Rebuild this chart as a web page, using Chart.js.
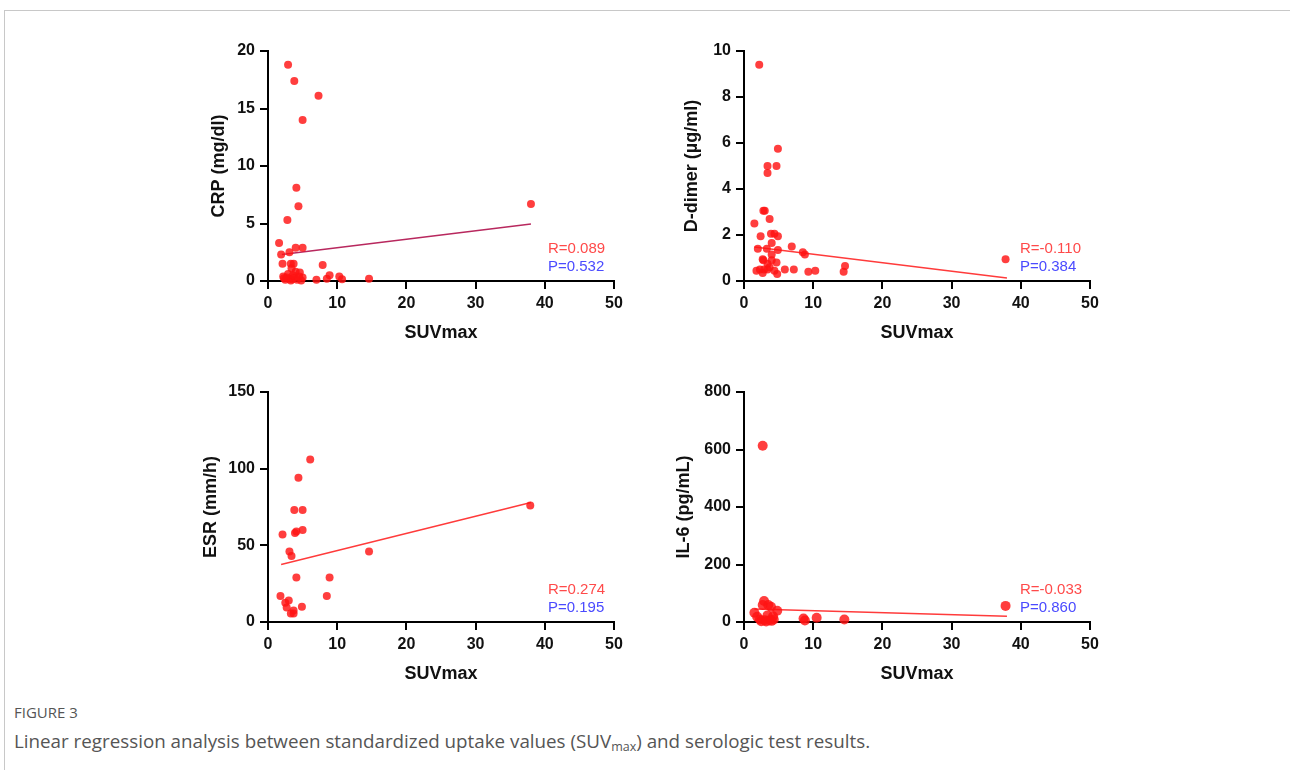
<!DOCTYPE html>
<html>
<head>
<meta charset="utf-8">
<script src="https://cdn.jsdelivr.net/npm/chart.js@4.4.0/dist/chart.umd.min.js"></script>
<style>
  body { margin: 0; background: #fff; width: 1290px; height: 770px; overflow: hidden; position: relative; }
  .frame { position: absolute; left: 4px; top: 10px; right: -2px; bottom: -2px; border-top: 1px solid #c8c8c8; border-left: 1px solid #c8c8c8; }
  canvas { position: absolute; }
  .figlabel { position: absolute; left: 14px; top: 702px; font-family: "Open Sans", Lato, sans-serif; font-size: 15px; color: #555; }
  .caption { position: absolute; left: 14px; top: 728px; font-family: "Open Sans", Lato, sans-serif; font-size: 18.8px; color: #555; white-space: nowrap; }
  .caption sub { font-size: 12.5px; vertical-align: -3px; }
</style>
</head>
<body>
<div class="frame"></div>
<canvas id="crp" width="460" height="330" style="left:180px;top:30px"></canvas>
<canvas id="ddimer" width="460" height="330" style="left:656px;top:30px"></canvas>
<canvas id="esr" width="460" height="330" style="left:180px;top:371px"></canvas>
<canvas id="il6" width="460" height="330" style="left:656px;top:371px"></canvas>
<div class="figlabel">FIGURE 3</div>
<div class="caption">Linear regression analysis between standardized uptake values (SUV<sub>max</sub>) and serologic test results.</div>

<script>
// valores
const crpX = [2.9, 3.8, 7.3, 5.0, 4.1, 4.4, 2.8, 1.6, 4.0, 5.0, 1.9, 3.1, 2.1, 3.3, 3.7, 3.4, 7.9, 2.2, 2.7, 4.6, 5.0, 8.9, 8.5, 10.3, 10.7, 7.0, 14.6, 38.0, 2.5, 3.0, 3.3, 3.8, 4.2, 4.5, 2.9, 3.5, 4.8, 2.3, 3.6, 4.0];
const crpY = [18.8, 17.4, 16.1, 14.0, 8.1, 6.5, 5.3, 3.3, 2.9, 2.9, 2.3, 2.5, 1.5, 1.5, 1.5, 1.1, 1.4, 0.4, 0.3, 0.75, 0.3, 0.5, 0.2, 0.4, 0.15, 0.1, 0.2, 6.7, 0.1, 0.2, 0.05, 0.3, 0.1, 0.4, 0.6, 0.15, 0.05, 0.25, 0.5, 0.8];
const crpFitX = [2.0, 38.0];
const crpFitY = [2.3, 4.95];

const ddX = [2.2, 4.9, 3.4, 4.7, 3.4, 2.8, 3.0, 3.7, 1.5, 2.4, 3.9, 4.4, 4.9, 4.0, 2.0, 3.3, 4.9, 6.9, 8.5, 8.8, 4.0, 2.7, 2.8, 4.0, 4.7, 3.4, 3.7, 1.8, 2.3, 2.9, 3.4, 4.4, 4.8, 2.7, 5.9, 7.2, 9.3, 10.3, 14.4, 14.6, 37.8];
const ddY = [9.4, 5.75, 5.0, 5.0, 4.7, 3.05, 3.05, 2.7, 2.5, 1.95, 2.05, 2.05, 1.95, 1.65, 1.4, 1.4, 1.35, 1.5, 1.25, 1.15, 1.15, 0.95, 0.9, 0.9, 0.8, 0.75, 0.6, 0.45, 0.5, 0.5, 0.5, 0.45, 0.3, 0.35, 0.5, 0.5, 0.4, 0.45, 0.4, 0.65, 0.95];
const ddFitX = [1.5, 38.0];
const ddFitY = [1.48, 0.13];

const esrX = [6.1, 4.4, 3.8, 5.0, 2.1, 3.9, 4.1, 5.0, 3.1, 3.4, 14.6, 4.1, 8.9, 1.8, 8.5, 3.0, 2.5, 2.7, 4.9, 3.7, 3.3, 3.7, 37.9];
const esrY = [106, 94, 73, 73, 57, 58, 59, 60, 46, 43, 46, 29, 29, 17, 17, 14, 12.5, 9.5, 10, 7.5, 5.5, 5.5, 76];
const esrFitX = [1.9, 38.0];
const esrFitY = [37.5, 78];

const il6X = [2.7, 2.9, 2.7, 3.5, 3.9, 4.8, 1.5, 1.9, 2.3, 3.0, 3.7, 4.3, 3.4, 4.2, 8.6, 8.8, 10.5, 14.5, 37.8, 2.5, 3.2, 4.0];
const il6Y = [613, 73, 59, 59, 53, 39, 32, 18, 9, 6, 6, 9, 23, 20, 12, 5, 15, 9, 56, 3, 2, 4];
const il6FitX = [1.5, 38.0];
const il6FitY = [45, 20];

const rLabels = ["R=0.089", "R=-0.110", "R=0.274", "R=-0.033"];
const pLabels = ["P=0.532", "P=0.384", "P=0.195", "P=0.860"];

const toPts = (xs, ys) => xs.map((x, i) => ({ x: x, y: ys[i] }));

// texto R / P abajo a la derecha
const statsPlugin = {
  id: "stats",
  afterDraw(chart, args, opts) {
    const { ctx, chartArea } = chart;
    ctx.save();
    ctx.font = "15px 'Liberation Sans', Arial, sans-serif";
    ctx.textAlign = "left";
    ctx.textBaseline = "middle";
    ctx.fillStyle = "#ff4a4a";
    ctx.fillText(opts.r, chartArea.right - opts.dx, chartArea.bottom - 32);
    ctx.fillStyle = "#4a4aff";
    ctx.fillText(opts.p, chartArea.right - opts.dx, chartArea.bottom - 14);
    ctx.restore();
  }
};

function makeChart(id, pts, fit, cfg) {
  new Chart(document.getElementById(id), {
    type: "scatter",
    data: {
      datasets: [{
        data: pts,
        backgroundColor: "rgba(255, 20, 20, 0.82)",
        borderWidth: 0,
        pointRadius: cfg.radius,
        pointHoverRadius: cfg.radius,
        clip: false
      }, {
        type: "line",
        data: fit,
        borderColor: cfg.lineColor,
        borderWidth: 1.5,
        pointRadius: 0,
        fill: false
      }]
    },
    options: {
      responsive: false,
      animation: false,
      layout: { padding: { top: 21, right: 26, left: 0, bottom: 0 } },
      plugins: {
        legend: { display: false },
        tooltip: { enabled: false },
        stats: { r: cfg.r, p: cfg.p, dx: cfg.dx }
      },
      scales: {
        x: {
          type: "linear",
          min: 0, max: 50,
          ticks: { stepSize: 10, color: "#111", padding: 5, font: { family: "'Liberation Sans', Arial", size: 16, weight: "bold" } },
          grid: { drawOnChartArea: false, drawTicks: true, tickLength: 8, color: "#000", lineWidth: 2 },
          border: { color: "#000", width: 2 },
          title: { display: true, text: "SUVmax", color: "#111", padding: { top: 0, bottom: 16 }, font: { family: "'Liberation Sans', Arial", size: 18, weight: "bold" } },
          afterFit: s => { s.height = 79; }
        },
        y: {
          min: 0, max: cfg.ymax,
          ticks: { stepSize: cfg.ystep, color: "#111", padding: 5, font: { family: "'Liberation Sans', Arial", size: 16, weight: "bold" } },
          grid: { drawOnChartArea: false, drawTicks: true, tickLength: 8, color: "#000", lineWidth: 2 },
          border: { color: "#000", width: 2 },
          title: { display: true, text: cfg.ytitle, color: "#111", padding: { top: cfg.tpad, bottom: 0 }, font: { family: "'Liberation Sans', Arial", size: 18, weight: "bold" } },
          afterFit: s => { s.width = 88; }
        }
      }
    },
    plugins: [statsPlugin]
  });
}

makeChart("crp", toPts(crpX, crpY), toPts(crpFitX, crpFitY),
  { ymax: 20, ystep: 5, ytitle: "CRP (mg/dl)", tpad: 28, radius: 4, lineColor: "#b8285e", r: rLabels[0], p: pLabels[0], dx: 66 });
makeChart("ddimer", toPts(ddX, ddY), toPts(ddFitX, ddFitY),
  { ymax: 10, ystep: 2, ytitle: "D-dimer (µg/ml)", tpad: 25, radius: 4, lineColor: "#ff3b3b", r: rLabels[1], p: pLabels[1], dx: 70 });
makeChart("esr", toPts(esrX, esrY), toPts(esrFitX, esrFitY),
  { ymax: 150, ystep: 50, ytitle: "ESR (mm/h)", tpad: 20, radius: 4, lineColor: "#ff3b3b", r: rLabels[2], p: pLabels[2], dx: 66 });
makeChart("il6", toPts(il6X, il6Y), toPts(il6FitX, il6FitY),
  { ymax: 800, ystep: 200, ytitle: "IL-6 (pg/mL)", tpad: 17, radius: 5, lineColor: "#ff3b3b", r: rLabels[3], p: pLabels[3], dx: 70 });
</script>
</body>
</html>
